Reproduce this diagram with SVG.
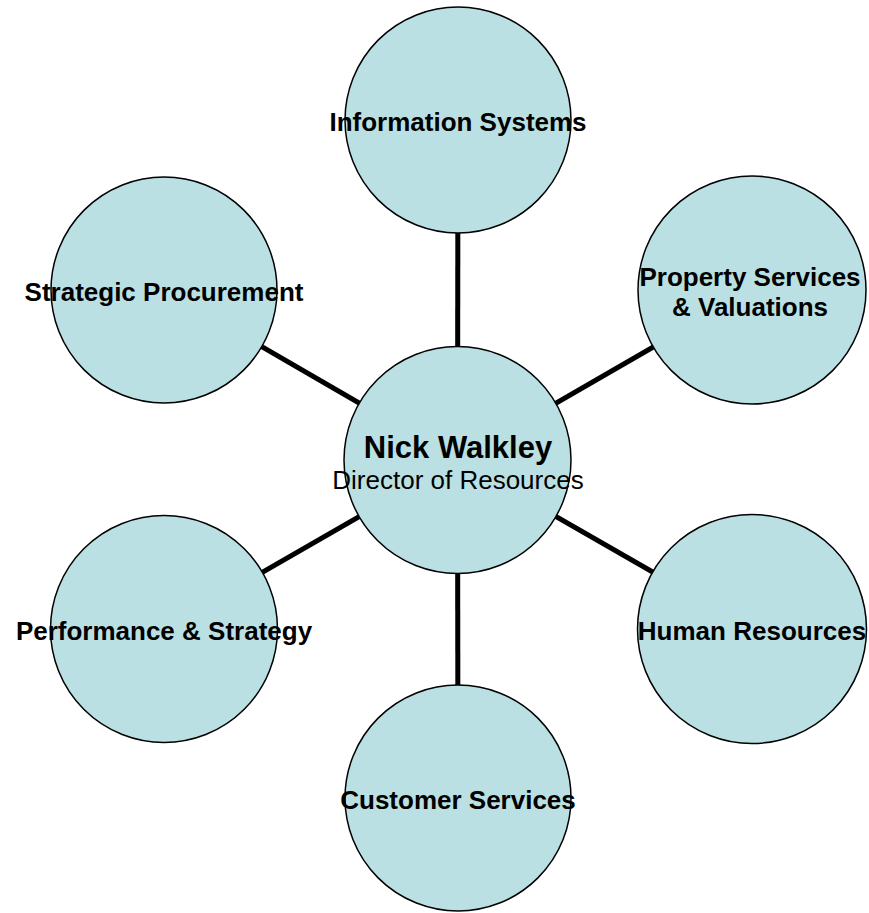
<svg xmlns="http://www.w3.org/2000/svg" width="869" height="913" viewBox="0 0 869 913">
<style>
.n{fill:#BBE0E3;stroke:#000;stroke-width:1.5}
.t{font-family:"Liberation Sans",Arial,sans-serif;font-weight:bold;font-size:26px;text-anchor:middle;fill:#000}
.c{stroke:#000;stroke-width:5;fill:none}
</style>
<rect width="869" height="913" fill="#fff"/>
<g id="connectors">
<line class="c" x1="457.5" y1="460" x2="458" y2="120"/>
<line class="c" x1="457.5" y1="460" x2="752" y2="290"/>
<line class="c" x1="457.5" y1="460" x2="164" y2="290"/>
<line class="c" x1="457.5" y1="460" x2="164" y2="629"/>
<line class="c" x1="457.5" y1="460" x2="752" y2="629"/>
<line class="c" x1="457.5" y1="460" x2="458" y2="798"/>
</g>
<g id="node-center">
<circle class="n" cx="457.5" cy="460" r="113.5"/>
<text class="t" x="458" y="458" style="font-size:31px">Nick Walkley</text>
<text class="t" x="458" y="489" style="font-weight:normal">Director of Resources</text>
</g>
<g id="node-information-systems">
<circle class="n" cx="458" cy="120" r="113"/>
<text class="t" x="458" y="131">Information Systems</text>
</g>
<g id="node-property-services">
<circle class="n" cx="752" cy="290" r="114"/>
<text class="t" x="750" y="286">Property Services</text>
<text class="t" x="750" y="316">&amp; Valuations</text>
</g>
<g id="node-strategic-procurement">
<circle class="n" cx="164" cy="290" r="113"/>
<text class="t" x="164" y="301">Strategic Procurement</text>
</g>
<g id="node-performance-strategy">
<circle class="n" cx="164" cy="629" r="113.5"/>
<text class="t" x="164" y="640">Performance &amp; Strategy</text>
</g>
<g id="node-human-resources">
<circle class="n" cx="752" cy="629" r="114.5"/>
<text class="t" x="752" y="640">Human Resources</text>
</g>
<g id="node-customer-services">
<circle class="n" cx="458" cy="798" r="113"/>
<text class="t" x="458" y="809">Customer Services</text>
</g>
</svg>
